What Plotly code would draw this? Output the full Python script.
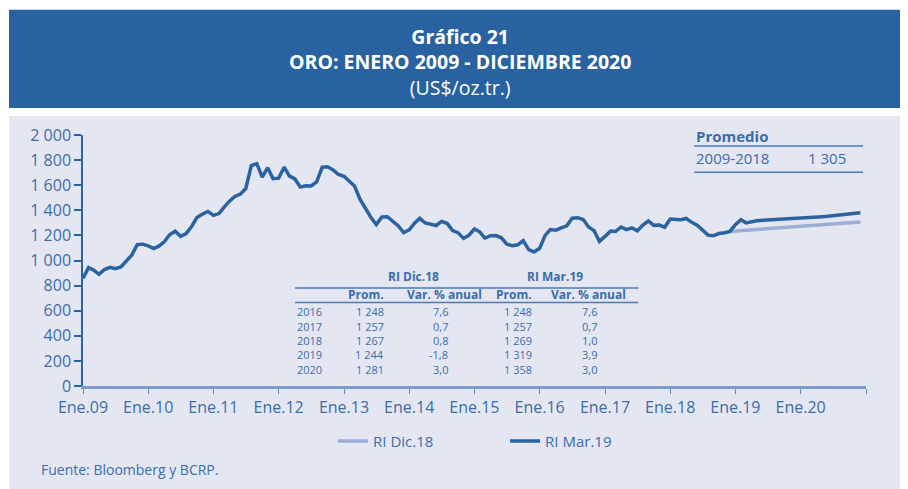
import plotly.graph_objects as go
import pandas as pd

# ---------------- DATA ----------------
gold_2009 = [858, 943, 924, 890, 928, 946, 934, 949, 996, 1043, 1127, 1130]
gold_2010 = [1117, 1095, 1114, 1149, 1205, 1233, 1193, 1215, 1271, 1343, 1370, 1391]
gold_2011 = [1360, 1374, 1424, 1473, 1510, 1529, 1573, 1756, 1772, 1665, 1739, 1652]
gold_2012 = [1656, 1743, 1674, 1650, 1585, 1596, 1594, 1626, 1744, 1747, 1722, 1685]
gold_2013 = [1671, 1627, 1593, 1487, 1414, 1343, 1286, 1347, 1349, 1316, 1275, 1222]
gold_2014 = [1244, 1300, 1336, 1299, 1287, 1279, 1311, 1296, 1238, 1222, 1176, 1201]
gold_2015 = [1251, 1227, 1179, 1198, 1199, 1181, 1131, 1117, 1125, 1159, 1086, 1068]
gold_2016 = [1097, 1200, 1246, 1242, 1260, 1276, 1337, 1341, 1326, 1267, 1238, 1152]
gold_2017 = [1192, 1234, 1231, 1267, 1246, 1260, 1236, 1283, 1315, 1280, 1282, 1265]
gold_2018 = [1331, 1331, 1325, 1335, 1304, 1282, 1238, 1202, 1198, 1215, 1221, 1232]
ri_mar19_2019 = [1285, 1325, 1300, 1310, 1317, 1320, 1322, 1326, 1328, 1330, 1332, 1335]
ri_mar19_2020 = [1338, 1340, 1343, 1346, 1349, 1352, 1356, 1360, 1364, 1368, 1373, 1380]
ri_dic18_2019 = [1235, 1238, 1241, 1244, 1248, 1251, 1254, 1257, 1260, 1263, 1266, 1269]
ri_dic18_2020 = [1272, 1275, 1278, 1281, 1284, 1287, 1290, 1293, 1296, 1299, 1302, 1306]

x_tick_labels = ["Ene.09", "Ene.10", "Ene.11", "Ene.12", "Ene.13", "Ene.14", "Ene.15",
                 "Ene.16", "Ene.17", "Ene.18", "Ene.19", "Ene.20", ""]
y_tick_vals = [0, 200, 400, 600, 800, 1000, 1200, 1400, 1600, 1800, 2000]
y_tick_labels = ["0", "200", "400", "600", "800", "1 000", "1 200", "1 400", "1 600", "1 800", "2 000"]

table_years = ["2016", "2017", "2018", "2019", "2020"]
dic18_prom = ["1 248", "1 257", "1 267", "1 244", "1 281"]
dic18_var = ["7,6", "0,7", "0,8", "-1,8", "3,0"]
mar19_prom = ["1 248", "1 257", "1 269", "1 319", "1 358"]
mar19_var = ["7,6", "0,7", "1,0", "3,9", "3,0"]
promedio_period = "2009-2018"
promedio_value = "1 305"

# ---------------- BUILD ----------------
history = (gold_2009 + gold_2010 + gold_2011 + gold_2012 + gold_2013 + gold_2014 +
           gold_2015 + gold_2016 + gold_2017 + gold_2018)
ri_mar19 = history + ri_mar19_2019 + ri_mar19_2020
ri_dic18 = [gold_2018[-1]] + ri_dic18_2019 + ri_dic18_2020

months = pd.date_range("2009-01-01", periods=len(ri_mar19), freq="MS")
months_dic = months[len(history) - 1:]
tick_dates = pd.date_range("2009-01-01", "2021-01-01", freq="YS")

DARK = "#2A63A0"
LIGHT = "#9CAED5"
TXT = "#3B6CAA"
PANEL = "#E4E7F2"

OFF = 8  # page body margin
W, H = 900, 481
# plot area in screenshot pixels
L, R, T, B = 83 - OFF, 865.7 - OFF, 135 - OFF, 385.7 - OFF


def px(x):
    return (x - OFF - L) / (R - L)


def py(y):
    return (B - (y - OFF)) / (B - T)


fig = go.Figure()
fig.add_trace(go.Scatter(x=months_dic, y=ri_dic18, mode="lines", name="RI Dic.18",
                         line=dict(color=LIGHT, width=3.5)))
fig.add_trace(go.Scatter(x=months, y=ri_mar19, mode="lines", name="RI Mar.19",
                         line=dict(color=DARK, width=3.5)))

shapes = [
    dict(type="rect", xref="paper", yref="paper", x0=px(9), x1=px(912), y0=py(495), y1=py(116),
         fillcolor=PANEL, line=dict(width=0), layer="below"),
    dict(type="rect", xref="paper", yref="paper", x0=px(9), x1=px(912), y0=py(108), y1=py(10),
         fillcolor="#2862A0", line=dict(width=0), layer="below"),
]
for yy in (287.7, 302.3):
    shapes.append(dict(type="line", xref="paper", yref="paper", x0=px(295), x1=px(638),
                       y0=py(yy), y1=py(yy), line=dict(color="#4C7BB4", width=1.5)))
for yy in (146, 172.3):
    shapes.append(dict(type="line", xref="paper", yref="paper", x0=px(694), x1=px(862.7),
                       y0=py(yy), y1=py(yy), line=dict(color="#4C7BB4", width=1.5)))

ann = []


def text(t, x, y, size, anchor="center", bold=False, color=TXT, family="Open Sans"):
    ann.append(dict(text=("<b>%s</b>" % t) if bold else t, x=px(x), y=py(y), xref="paper",
                    yref="paper", showarrow=False, xanchor=anchor, yanchor="middle",
                    font=dict(size=size, color=color, family=family)))


# title (single block so lines share one box)
title_block = ("<b>Gráfico 21</b><br>"
               "<b>ORO: ENERO 2009 - DICIEMBRE 2020</b><br>"
               "(US$/oz.tr.)")
text(title_block, 460, 62.5, 19.5, color="white")

# promedio box
text("Promedio", 694, 135.7, 15, anchor="left", bold=True)
text(promedio_period, 694, 158.3, 15, anchor="left")
text(promedio_value, 847.3, 158.3, 15, anchor="right")

# inset table
text("RI Dic.18", 413, 276.7, 12, bold=True)
text("RI Mar.19", 554.5, 276.7, 12, bold=True)
text("Prom.", 386, 294.3, 12, anchor="right", bold=True)
text("Var. % anual", 444.7, 294.3, 12, bold=True)
text("Prom.", 533.5, 294.3, 12, anchor="right", bold=True)
text("Var. % anual", 588.7, 294.3, 12, bold=True)
row_y = [311.7, 326, 340.3, 354.7, 369]
for i, yy in enumerate(row_y):
    text(table_years[i], 295, yy, 11, anchor="left")
    text(dic18_prom[i], 386, yy, 11, anchor="right")
    text(dic18_var[i], 450, yy, 11, anchor="right")
    text(mar19_prom[i], 533.5, yy, 11, anchor="right")
    text(mar19_var[i], 599.3, yy, 11, anchor="right")

text("Fuente: Bloomberg y BCRP.", 39, 469, 14, anchor="left")

fig.update_layout(
    width=W, height=H,
    margin=dict(l=L, r=W - R, t=T, b=H - B, pad=0),
    paper_bgcolor="white", plot_bgcolor=PANEL,
    shapes=shapes, annotations=ann,
    font=dict(family="Open Sans", color=TXT),
    showlegend=True,
    legend=dict(orientation="h", x=px(333), xanchor="left", y=py(441), yanchor="middle",
                font=dict(size=15, color=TXT), bgcolor="rgba(0,0,0,0)", entrywidth=127),
    xaxis=dict(range=[tick_dates[0], tick_dates[-1]], tickvals=tick_dates, ticktext=x_tick_labels,
               showgrid=False, zeroline=False, showline=True, linecolor="#7E9BCB", linewidth=2.5,
               ticks="outside", ticklen=5, tickcolor="#5E86BD", tickwidth=1,
               tickfont=dict(size=16, color=TXT)),
    yaxis=dict(range=[0, 2000], tickvals=y_tick_vals, ticktext=y_tick_labels,
               showgrid=False, zeroline=False, showline=True, linecolor=DARK, linewidth=1.5,
               ticks="outside", ticklen=7, tickcolor=DARK, tickwidth=1.5,
               tickfont=dict(size=16, color=TXT)),
)

fig.write_html("out.html")
